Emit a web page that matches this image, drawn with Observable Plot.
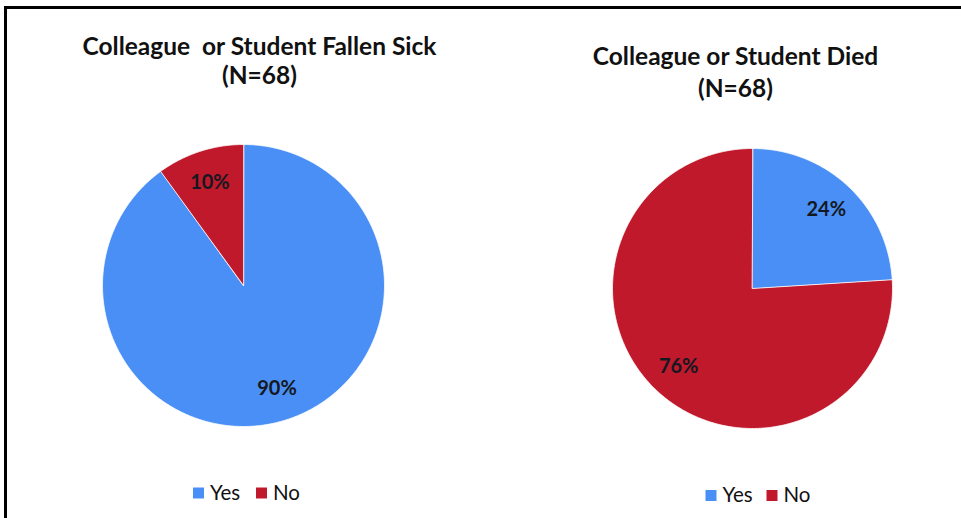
<!DOCTYPE html>
<html>
<head>
<meta charset="utf-8">
<script src="https://cdn.jsdelivr.net/npm/d3@7"></script>
<script src="https://cdn.jsdelivr.net/npm/@observablehq/plot@0.6"></script>
<style>
  html, body { margin: 0; padding: 0; background: #fff; }
  #chart { position: absolute; left: 0; top: 0; width: 961px; height: 518px; }
  #chart svg { display: block; }
  #frame { position: absolute; left: 4px; top: 6px; width: 957px; height: 512px;
           border-left: 3px solid #000; border-top: 3px solid #000; box-sizing: border-box; pointer-events: none; }
</style>
</head>
<body>
<div id="chart"></div>
<div id="frame"></div>
<script>
// Data
const categories = ["Yes", "No"];
const colors = ["#4a8ff6", "#c0192c"];
const sickValues = [90, 10];
const diedValues = [24, 76];
const titles = [
  ["Colleague  or Student Fallen Sick", "(N=68)"],
  ["Colleague or Student Died", "(N=68)"]
];

// Layout (pixels in chart coordinates)
const W = 961, H = 518;
const pies = [
  {values: sickValues, cx: 243, cy: 285, r: 141, titleX: 259, titleY: [47, 76], legendY: 492.5, legendX: 198, gap: 63},
  {values: diedValues, cx: 752, cy: 288, r: 140, titleX: 735, titleY: [57, 89], legendY: 495, legendX: 710.5, gap: 61}
];

const wedges = [];
const labels = [];
const titleRows = [];
const legendRows = [];
pies.forEach((p, pi) => {
  const arcs = d3.pie().sort(null).value(d => d)(p.values);
  arcs.forEach((a, i) => {
    const n = Math.max(2, Math.ceil((a.endAngle - a.startAngle) / 0.01));
    wedges.push({pie: pi, cat: categories[i], x: p.cx, y: p.cy});
    for (let j = 0; j <= n; j++) {
      const t = a.startAngle + (a.endAngle - a.startAngle) * j / n;
      wedges.push({pie: pi, cat: categories[i], x: p.cx + p.r * Math.sin(t), y: p.cy - p.r * Math.cos(t)});
    }
    const mid = (a.startAngle + a.endAngle) / 2;
    const f = 0.77;
    labels.push({x: p.cx + p.r * f * Math.sin(mid), y: p.cy - p.r * f * Math.cos(mid), text: p.values[i] + "%"});
  });
  titles[pi].forEach((t, ti) => titleRows.push({x: p.titleX, y: p.titleY[ti], text: t}));
  legendRows.push({x: p.legendX, y: p.legendY, cat: "Yes"});
  legendRows.push({x: p.legendX + p.gap, y: p.legendY, cat: "No"});
});

const chart = Plot.plot({
  width: W,
  height: H,
  margin: 0,
  style: {fontFamily: "Lato, 'Open Sans', sans-serif", background: "#fff"},
  x: {domain: [0, W], range: [0, W], axis: null},
  y: {domain: [0, H], range: [0, H], axis: null},
  color: {domain: categories, range: colors},
  marks: [
    Plot.line(wedges, {x: "x", y: "y", z: d => d.pie + d.cat, fill: "cat", stroke: "#fff", strokeWidth: 0.8, curve: "linear-closed"}),
    Plot.text(labels, {x: "x", y: "y", text: "text", fontSize: 20, fontWeight: "bold", fill: "#141820"}),
    Plot.text(titleRows, {x: "x", y: "y", text: "text", fontSize: 24.5, fontWeight: "bold", fill: "#111"}),
    Plot.dot(legendRows, {x: "x", y: "y", symbol: "square", r: 6.2, fill: "cat", stroke: null}),
    Plot.text(legendRows, {x: d => d.x + 11.5, y: "y", text: "cat", textAnchor: "start", fontSize: 20.5, fill: "#111"})
  ]
});
document.getElementById("chart").appendChild(chart);
</script>
</body>
</html>
